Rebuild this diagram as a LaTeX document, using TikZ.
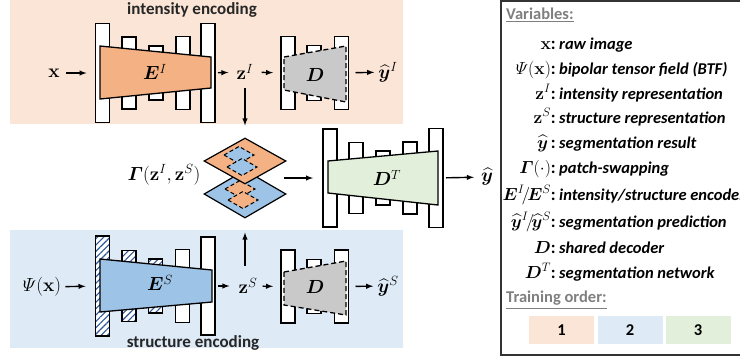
\RequirePackage{fix-cm}
\documentclass[tikz,border=0pt]{standalone}
\usepackage{amsmath,bm}
\usepackage[no-math]{fontspec}
\newfontfamily\calib{Carlito}
\usetikzlibrary{shapes.geometric,patterns.meta}

\definecolor{peach}{HTML}{FBE5D6}
\definecolor{paleblue}{HTML}{DEEBF7}
\definecolor{palegreen}{HTML}{E2EFDA}
\definecolor{encorange}{HTML}{F4B183}
\definecolor{encblue}{HTML}{9DC3E6}
\definecolor{decgray}{HTML}{C9C9C9}
\definecolor{hatchblue}{HTML}{2F5597}
\definecolor{labelgray}{HTML}{7F7F7F}

\newcommand{\swappatch}[3]{\draw[dash pattern=on 4pt off 2.5pt, line width=1pt, fill=#3]
  (#1-15,#2) -- (#1,#2-8.5) -- (#1+15,#2) -- (#1,#2+8.5) -- cycle;}

\begin{document}
\begin{tikzpicture}[x=1pt, y=-1pt,
    bar/.style={draw, fill=white, line width=1.3pt, minimum width=14, inner sep=0, outer sep=0},
    hatchbar/.style={bar, preaction={fill=white}, pattern={Lines[angle=45,distance=4.5pt,line width=1.1pt]}, pattern color=hatchblue},
    trap/.style={draw, line width=1.3pt, line join=miter},
    dtrap/.style={trap, fill=decgray, dash pattern=on 5pt off 3pt},
    mlab/.style={font=\fontsize{19}{22}\selectfont, inner sep=2pt},
    band/.style={font=\calib\bfseries\fontsize{17}{19}\selectfont, text=black!85},
    arr/.style={-latex, line width=1.4pt},
    swap/.style={diamond, draw, line width=1.2pt, inner sep=0, minimum width=82, minimum height=46},
    legsym/.style={font=\fontsize{17.5}{21}\selectfont, inner sep=0, anchor=base east},
    legdesc/.style={font=\calib\bfseries\itshape\fontsize{16.5}{19}\selectfont, inner sep=0, anchor=base west},
    leghead/.style={font=\calib\bfseries\fontsize{16.5}{19}\selectfont, text=labelgray, anchor=west, inner sep=0},
    legbox/.style={minimum width=65, minimum height=28, inner sep=0, font=\calib\bfseries\fontsize{16.5}{19}\selectfont}]
\useasboundingbox (0,0) rectangle (740,360);

% Bands
\fill[peach] (10,0) rectangle (403,124);
\fill[paleblue] (10,230) rectangle (403,348);
\node[band] (intTitle) at (192,10) {intensity encoding};
\node[band] (strTitle) at (193,343) {structure encoding};

% Intensity encoder
\foreach \n/\cx/\h in {1/102.5/99, 2/129/72, 3/156/54, 4/183/73, 5/208/99}
  \node[bar, minimum height=\h] (eiB\n) at (\cx,73) {};
\draw[trap, fill=encorange] (100,46) -- (211,57) -- (211,88) -- (100,99) -- cycle;
\node[mlab] (EI) at (155,72) {$\bm{E}^{I}$};

% Top decoder
\foreach \n/\cx/\h in {1/288/73, 2/314/55, 3/341.5/73}
  \node[bar, minimum height=\h] (dB\n) at (\cx,73) {};
\draw[dtrap] (284,57) -- (346,46) -- (346,102) -- (284,90) -- cycle;
\node[mlab] (DI) at (315,75) {$\bm{D}$};

\node[mlab] (xin) at (54,73) {$\mathbf{x}$};
\node[mlab] (zI) at (245,72) {$\mathbf{z}^{I}$};
\node[mlab] (yI) at (388,72) {$\widehat{\bm{y}}^{I}$};
\draw[arr, shorten <=4, shorten >=9] (xin) -- (eiB1);
\draw[arr, shorten <=3, shorten >=6] (eiB5) -- (zI);
\draw[arr, shorten <=6, shorten >=8] (zI) -- (dB1);
\draw[arr, shorten <=7, shorten >=2] (dB3) -- (yI);

% Structure encoder
\foreach \n/\cx/\h in {1/102.5/100, 2/129/71, 3/155.5/54}
  \node[hatchbar, minimum height=\h] (esB\n) at (\cx,286) {};
\foreach \n/\cx/\h in {4/182.5/73, 5/208/98}
  \node[bar, minimum height=\h] (esB\n) at (\cx,286) {};
\draw[trap, fill=encblue] (100,259) -- (212,270) -- (212,302) -- (100,312) -- cycle;
\node[mlab] (ES) at (160,283) {$\bm{E}^{S}$};

% Bottom decoder
\foreach \n/\cx/\h in {1/288/73, 2/314/54, 3/341.5/73}
  \node[bar, minimum height=\h] (dsB\n) at (\cx,286.5) {};
\draw[dtrap] (284,272) -- (346,261) -- (346,315) -- (284,305) -- cycle;
\node[mlab] (DS) at (315,287) {$\bm{D}$};

\node[mlab] (psi) at (42,287) {$\varPsi(\mathbf{x})$};
\node[mlab] (zS) at (248,286) {$\mathbf{z}^{S}$};
\node[mlab] (yS) at (388,286) {$\widehat{\bm{y}}^{S}$};
\draw[arr, shorten <=2, shorten >=10] (psi) -- (esB1);
\draw[arr, shorten <=3, shorten >=7] (esB5) -- (zS);
\draw[arr, shorten <=3, shorten >=8] (zS) -- (dsB1);
\draw[arr, shorten <=7, shorten >=2] (dsB3) -- (yS);

% Patch swapping
\node[swap, fill=encblue, minimum height=48] (swapBot) at (245,194) {};
\swappatch{240}{189}{encorange}
\swappatch{243}{200}{encorange}
\node[swap, fill=encorange] (swapTop) at (245,161) {};
\swappatch{239}{155}{encblue}
\swappatch{242}{167}{encblue}
\node[mlab] (gamma) at (164,175) {$\bm{\varGamma}(\mathbf{z}^{I},\mathbf{z}^{S})$};
\coordinate (swapR) at (284,178);
\draw[arr, shorten <=6, shorten >=12] (zI.south -| swapTop.north) -- (swapTop.north);
\draw[arr, shorten <=10, shorten >=14] (zS.north -| swapBot.south) -- (swapBot.south);

% Segmentation network
\foreach \n/\cx/\h in {1/330/98, 2/356/71, 3/383/54, 4/410/72, 5/436/99}
  \node[bar, minimum height=\h] (dtB\n) at (\cx,178) {};
\draw[trap, fill=palegreen] (328,161) -- (438,151) -- (438,205) -- (328,193) -- cycle;
\node[mlab] (DT) at (387,178) {$\bm{D}^{T}$};
\node[mlab] (yhat) at (487,177) {$\widehat{\bm{y}}$};
\draw[arr, shorten >=10] (swapR) -- (dtB1);
\draw[arr, shorten <=3, shorten >=5] (dtB5) -- (yhat);

% Legend
\begin{scope}
\clip (0,0) rectangle (740,360);
\draw[line width=1.5pt, black!80] (501,1) rectangle (750,355);
\node[leghead] (varHead) at (506,15) {\underline{Variables:}};
\foreach \sym/\desc/\yy [count=\i] in {
    {$\mathbf{x}$}/{raw image}/43,
    {$\varPsi(\mathbf{x})$}/{bipolar tensor field (BTF)}/68,
    {$\mathbf{z}^{I}$}/{intensity representation}/93,
    {$\mathbf{z}^{S}$}/{structure representation}/117,
    {$\widehat{\bm{y}}$\,}/{segmentation result}/142,
    {$\bm{\varGamma}(\cdot)$}/{patch-swapping}/167,
    {$\bm{E}^{I}\!/\!\bm{E}^{S}$}/{intensity/structure encoder}/194,
    {$\widehat{\bm{y}}^{I}\!/\!\widehat{\bm{y}}^{S}$}/{segmentation prediction}/221,
    {$\bm{D}$}/{shared decoder}/247,
    {$\bm{D}^{T}$}/{segmentation network}/272}
{
  \node[legsym] (sym\i) at (556,\yy+6) {\sym\calib\bfseries:};
  \node[legdesc] (desc\i) at ([xshift=3]sym\i.base east) {\desc};
}
\node[leghead] (ordHead) at (506,300) {\underline{Training order:}};
\node[legbox, fill=peach] (ord1) at (561.5,330) {1};
\node[legbox, fill=paleblue] (ord2) at (630,330) {2};
\node[legbox, fill=palegreen] (ord3) at (698,330) {3};
\end{scope}
\end{tikzpicture}
\end{document}
